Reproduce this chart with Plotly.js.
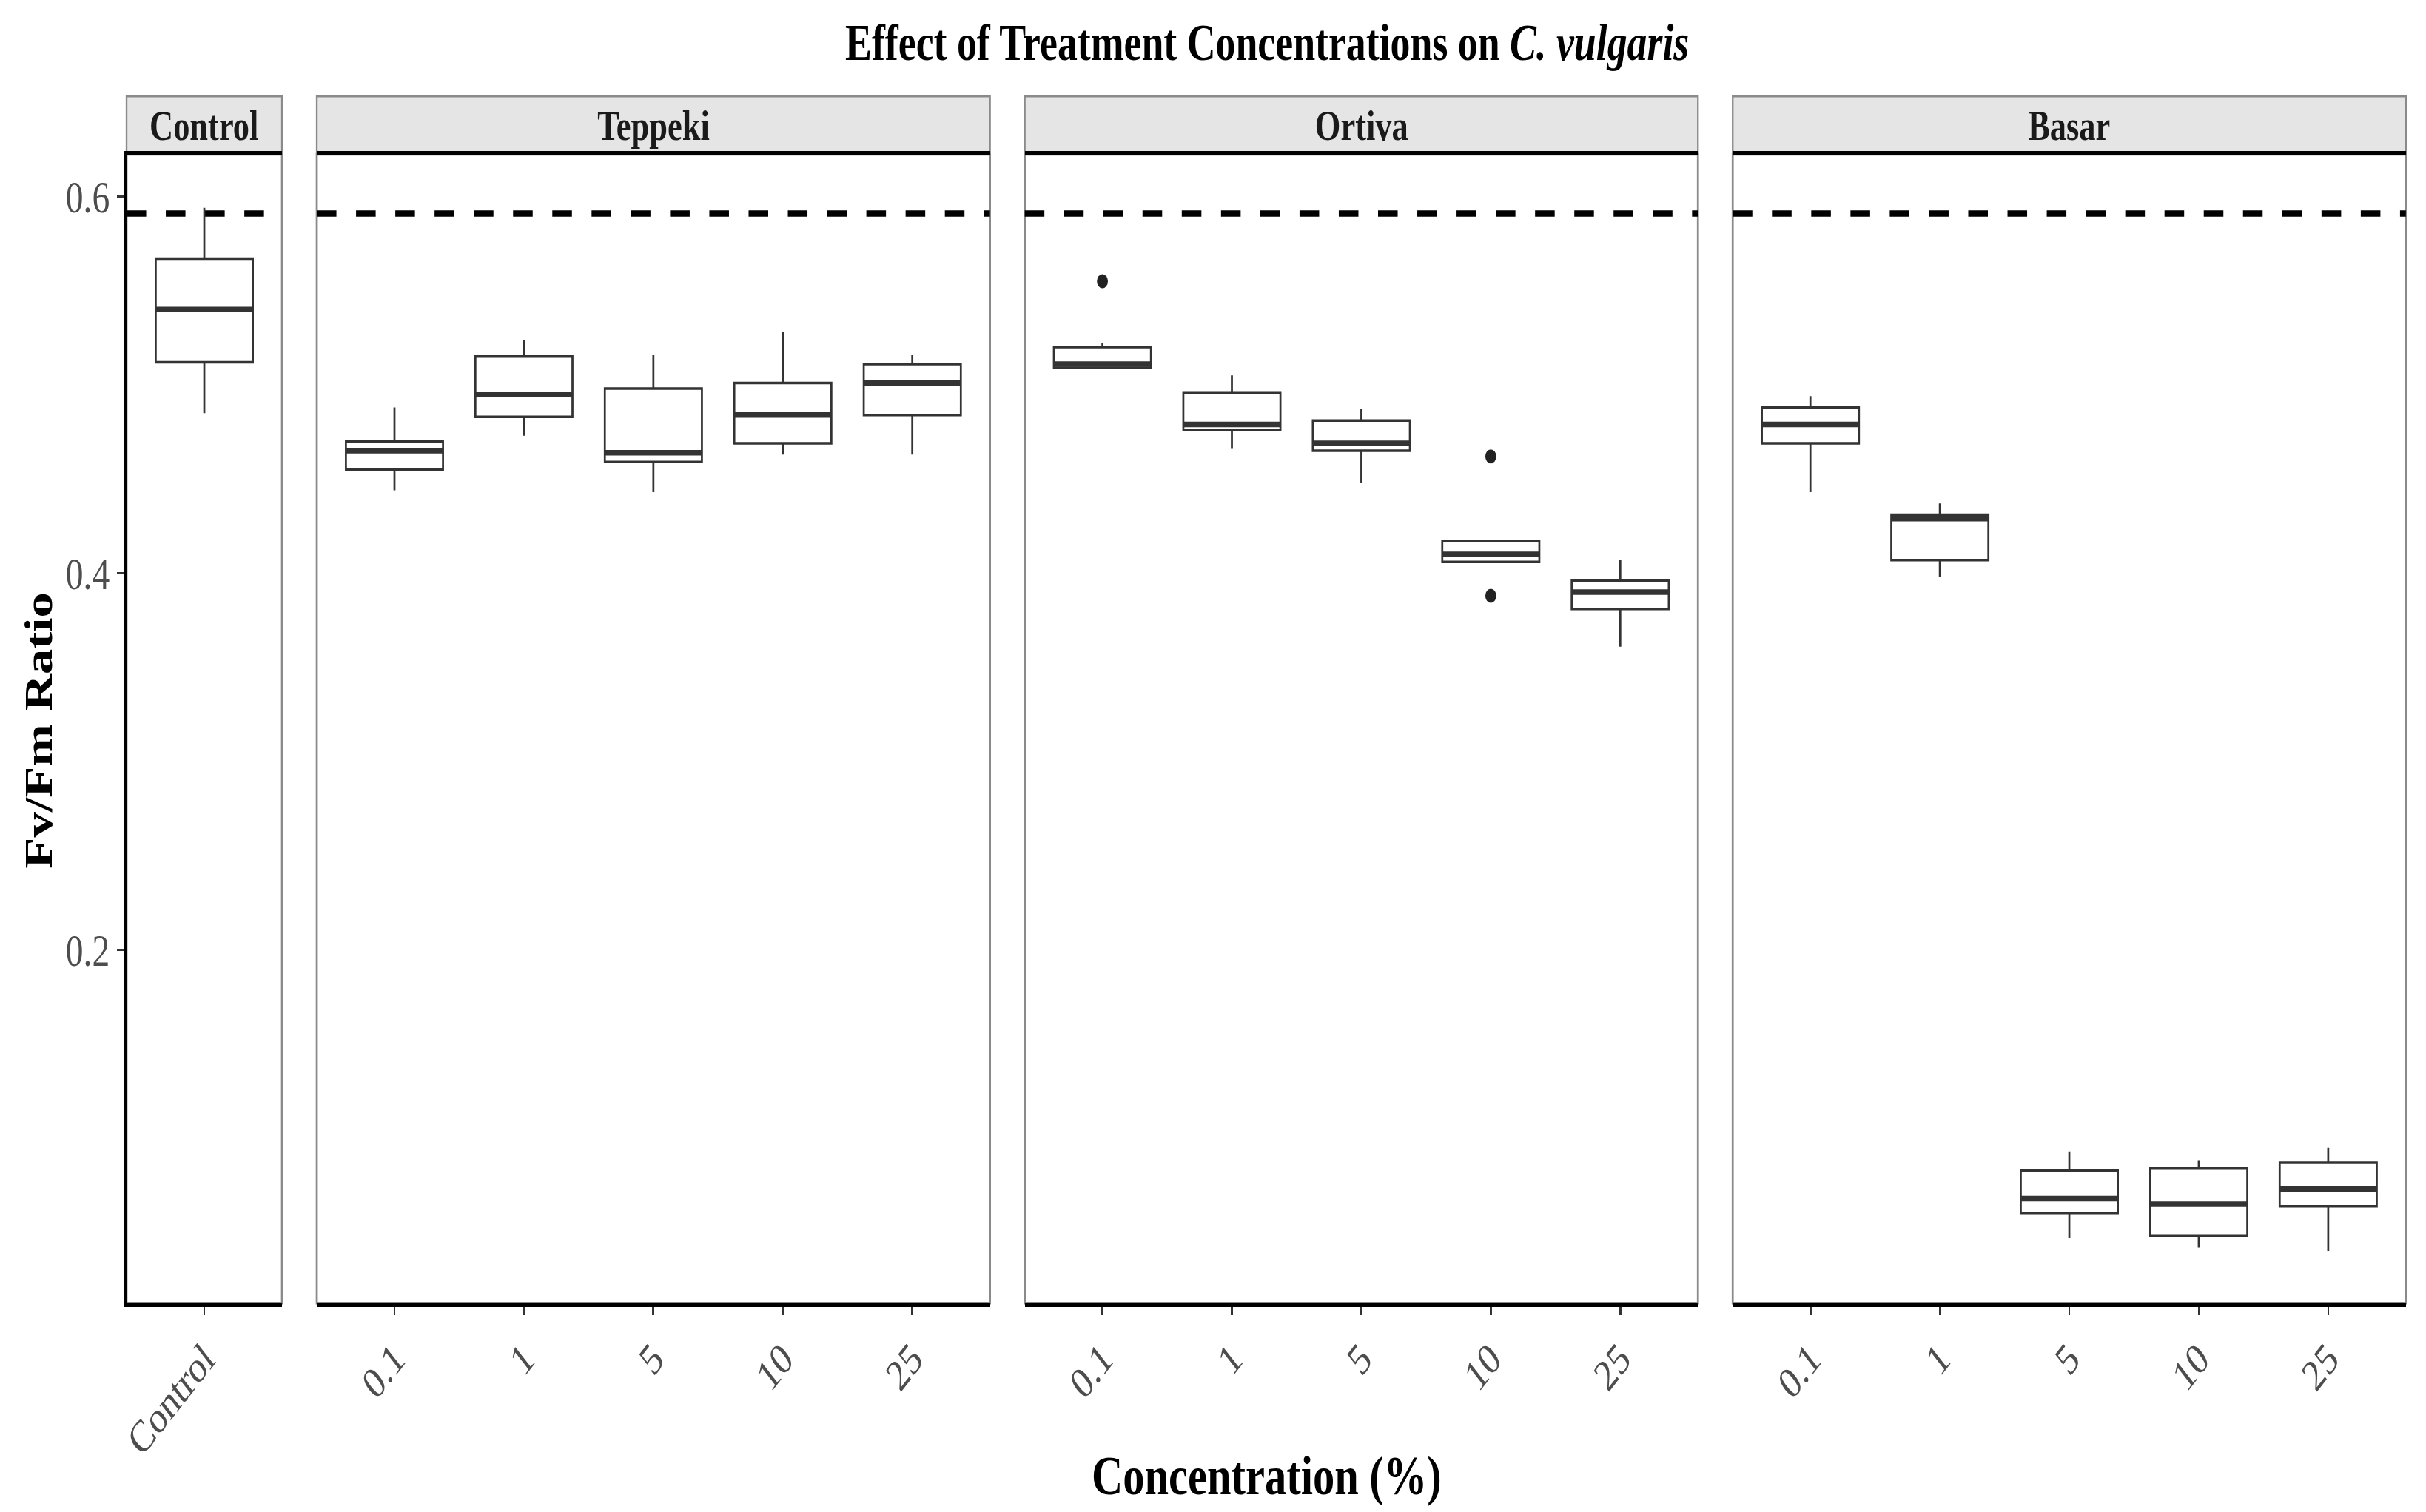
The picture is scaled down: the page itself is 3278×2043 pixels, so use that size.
<!DOCTYPE html>
<html><head><meta charset="utf-8">
<script src="https://cdn.plot.ly/plotly-3.0.1.min.js"></script>
<style>
html,body{margin:0;padding:0;background:#fff;overflow:hidden;}
#chart{width:4203px;height:2043px;transform:scaleX(0.78);transform-origin:0 0;}
</style></head><body><div id="chart"></div>
<script>
// ---- data ----
const controlCats = ["Control"];
const concCats = ["0.1", "1", "5", "10", "25"];
const panelNames = ["Control", "Teppeki", "Ortiva", "Basar"];

const ctrlLo = [0.485], ctrlQ1 = [0.512], ctrlMed = [0.540], ctrlQ3 = [0.567], ctrlHi = [0.594];

const tepLo  = [0.444, 0.473, 0.443, 0.463, 0.463];
const tepQ1  = [0.455, 0.483, 0.459, 0.469, 0.484];
const tepMed = [0.465, 0.495, 0.464, 0.484, 0.501];
const tepQ3  = [0.470, 0.515, 0.498, 0.501, 0.511];
const tepHi  = [0.488, 0.524, 0.516, 0.528, 0.516];

const ortLo  = [0.509, 0.466, 0.448, 0.406, 0.361];
const ortQ1  = [0.509, 0.476, 0.465, 0.406, 0.381];
const ortMed = [0.511, 0.479, 0.469, 0.410, 0.390];
const ortQ3  = [0.520, 0.496, 0.481, 0.417, 0.396];
const ortHi  = [0.522, 0.505, 0.487, 0.417, 0.407];
const ortOutX = ["0.1", "10", "10"];
const ortOutY = [0.555, 0.462, 0.388];

const basLo  = [0.443, 0.398, 0.047, 0.042, 0.040];
const basQ1  = [0.469, 0.407, 0.060, 0.048, 0.064];
const basMed = [0.479, 0.429, 0.068, 0.065, 0.073];
const basQ3  = [0.488, 0.431, 0.083, 0.084, 0.087];
const basHi  = [0.494, 0.437, 0.093, 0.088, 0.095];

const refLine = 0.591;
const yTicks = [0.2, 0.4, 0.6];
const yRange = [0.0125, 0.6224];

// ---- layout geometry (final image pixels) ----
const IMG_W = 3278, IMG_H = 2043;
const panelPx = [[171, 381], [428, 1337.5], [1384.5, 2294], [2341, 3250.5]];
const plotTop = 208.5, plotBottom = 1760.7, stripTop = 130;
const fx = p => p / IMG_W;
const fy = p => 1 - p / IMG_H;

const FONT = "Liberation Serif, Times New Roman, serif";
const LINE = "#333333";
const BORDER = "#8a8a8a";

const axNames = ["x", "x2", "x3", "x4"];
const catsFor = [controlCats, concCats, concCats, concCats];

const stats = [
  [ctrlLo, ctrlQ1, ctrlMed, ctrlQ3, ctrlHi],
  [tepLo, tepQ1, tepMed, tepQ3, tepHi],
  [ortLo, ortQ1, ortMed, ortQ3, ortHi],
  [basLo, basQ1, basMed, basQ3, basHi]
];

const traces = [];
stats.forEach((s, i) => {
  traces.push({
    type: "box", xaxis: axNames[i], yaxis: "y",
    x: catsFor[i],
    lowerfence: s[0], q1: s[1], median: s[2], q3: s[3], upperfence: s[4],
    width: 0.75, whiskerwidth: 0, boxpoints: false,
    fillcolor: "white", line: {color: LINE, width: 3.5},
    hoverinfo: "skip", showlegend: false
  });
  // thicker median bar (ggplot fatten)
  traces.push({
    type: "scatter", mode: "markers", xaxis: axNames[i], yaxis: "y",
    x: catsFor[i], y: s[2],
    marker: {symbol: "line-ew", size: 121, color: LINE, line: {color: LINE, width: 7.5}},
    hoverinfo: "skip", showlegend: false
  });
});
traces.push({
  type: "scatter", mode: "markers", xaxis: "x3", yaxis: "y",
  x: ortOutX, y: ortOutY,
  marker: {symbol: "circle", size: 19, color: "#222222"},
  hoverinfo: "skip", showlegend: false
});

const layout = {
  width: 4203, height: 2043, autosize: false,
  margin: {l: 0, r: 0, t: 0, b: 0},
  paper_bgcolor: "white", plot_bgcolor: "white",
  showlegend: false,
  font: {family: FONT, color: "#000"},
  title: {
    text: "Effect of Treatment Concentrations on <i>C. vulgaris</i>",
    font: {family: FONT, size: 69, weight: "bold", color: "#000"},
    x: fx(1712), xanchor: "center", xref: "paper",
    y: fy(57), yanchor: "middle", yref: "paper"
  },
  yaxis: {
    anchor: "x", domain: [fy(plotBottom), fy(plotTop)],
    range: yRange, tickvals: yTicks, ticktext: yTicks.map(v => v.toFixed(1)),
    ticks: "outside", ticklen: 12, tickwidth: 3, tickcolor: LINE,
    showline: true, linecolor: "#000", linewidth: 5,
    showgrid: false, zeroline: false,
    tickfont: {family: FONT, size: 61, color: "#4d4d4d"}
  },
  shapes: [], annotations: []
};

axNames.forEach((ax, i) => {
  const key = ax === "x" ? "xaxis" : "xaxis" + ax.slice(1);
  const n = catsFor[i].length;
  layout[key] = {
    anchor: "y", domain: [fx(panelPx[i][0]), fx(panelPx[i][1])],
    type: "category", categoryorder: "array", categoryarray: catsFor[i],
    range: [-0.6, n - 0.4],
    ticks: "outside", ticklen: 11, tickwidth: 3.5, tickcolor: LINE,
    tickangle: -45, ticklabelstandoff: 0,
    showline: true, linecolor: "#000", linewidth: 5, mirror: true,
    showgrid: false, zeroline: false,
    tickfont: {family: FONT, size: 60, color: "#4d4d4d"}
  };
  // panel border
  layout.shapes.push({
    type: "rect", xref: ax + " domain", yref: "y domain",
    x0: 0, x1: 1, y0: 0, y1: 1, layer: "below",
    line: {color: BORDER, width: 3.5}, fillcolor: "rgba(0,0,0,0)"
  });
  // strip
  layout.shapes.push({
    type: "rect", xref: ax + " domain", yref: "paper",
    x0: 0, x1: 1, y0: fy(plotTop), y1: fy(stripTop),
    line: {color: BORDER, width: 3}, fillcolor: "#e5e5e5", layer: "below"
  });
  // reference dashed line
  layout.shapes.push({
    type: "line", xref: ax + " domain", yref: "y",
    x0: 0, x1: 1, y0: refLine, y1: refLine,
    line: {color: "#000", width: 8.5, dash: "34px,34px"}
  });
  layout.annotations.push({
    text: panelNames[i], xref: ax + " domain", yref: "paper",
    x: 0.5, y: fy((plotTop + stripTop) / 2), xanchor: "center", yanchor: "middle",
    showarrow: false, font: {family: FONT, size: 57, weight: "bold", color: "#1a1a1a"}
  });
});

layout.annotations.push({
  text: "Concentration (%)", xref: "paper", yref: "paper",
  x: fx(1711), y: fy(1993), xanchor: "center", yanchor: "middle",
  showarrow: false, font: {family: FONT, size: 75, weight: "bold", color: "#000"}
});
layout.annotations.push({
  text: "Fv/Fm Ratio", xref: "paper", yref: "paper", textangle: -90,
  x: fx(52), y: fy(987), xanchor: "center", yanchor: "middle",
  showarrow: false, font: {family: FONT, size: 69, weight: "bold", color: "#000"}
});

Plotly.newPlot("chart", traces, layout, {staticPlot: true, responsive: false, displayModeBar: false});
</script></body></html>
